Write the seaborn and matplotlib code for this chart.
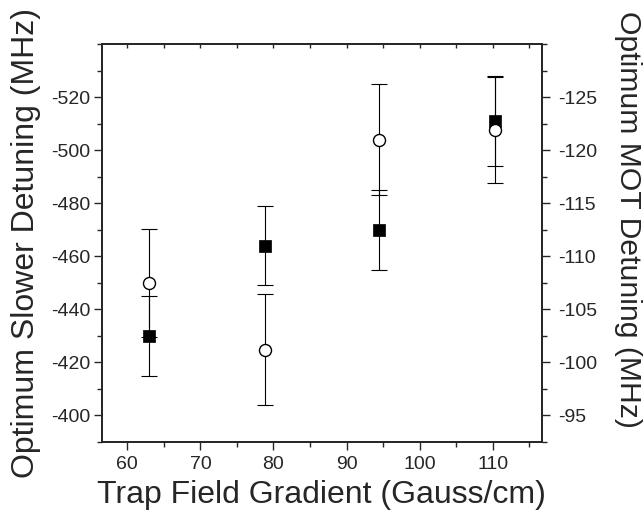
import numpy as np
import matplotlib
matplotlib.use("Agg")
import matplotlib.pyplot as plt
from matplotlib.ticker import MultipleLocator, FixedLocator
import seaborn as sns

sns.set_style("ticks")
plt.rcParams['font.family'] = ['Liberation Sans', 'DejaVu Sans']
plt.rcParams['axes.unicode_minus'] = False

# trap field gradient (Gauss/cm)
gradient = [63.0, 78.8, 94.5, 110.3]
# optimum slower detuning (MHz), squares, left axis
slower = [-430, -464, -470, -511]
slower_err = [15, 15, 15, 17]
# optimum MOT detuning (MHz), circles, right axis
mot = [-107.5, -101.2, -121.0, -121.9]
mot_err = [5.1, 5.2, 5.2, 5.0]

left_ticks = [-400, -420, -440, -460, -480, -500, -520]
right_ticks = [-95, -100, -105, -110, -115, -120, -125]

fig = plt.figure(figsize=(6.44, 5.21), dpi=100)
ax = fig.add_axes([0.158, 0.1516, 0.683, 0.764])
ax2 = ax.twinx()
ax3 = ax.twiny()

# error bars first, then markers on top
ax.errorbar(gradient, slower, yerr=slower_err, fmt='none', ecolor='black',
            elinewidth=0.8, capsize=5.6, capthick=0.8, zorder=2)
ax2.errorbar(gradient, mot, yerr=mot_err, fmt='none', ecolor='black',
             elinewidth=0.8, capsize=5.6, capthick=0.8, zorder=2)
sns.scatterplot(x=gradient, y=slower, ax=ax, marker='s', s=80, color='black',
                edgecolor='black', linewidth=0.5, zorder=3)
sns.scatterplot(x=gradient, y=mot, ax=ax2, marker='o', s=75, color='white',
                edgecolor='black', linewidth=1.0, zorder=3)

ax.set_xlim(56.5, 116.7)
ax3.set_xlim(56.5, 116.7)
ax.set_ylim(-390, -540)
ax2.set_ylim(-92.5, -130)

ax.xaxis.set_major_locator(MultipleLocator(10))
ax.xaxis.set_minor_locator(MultipleLocator(5))
ax3.xaxis.set_major_locator(MultipleLocator(5))
ax.yaxis.set_major_locator(FixedLocator(left_ticks))
ax.yaxis.set_minor_locator(MultipleLocator(10))
ax2.yaxis.set_major_locator(FixedLocator(right_ticks))
ax2.yaxis.set_minor_locator(MultipleLocator(2.5))

for a in (ax, ax2, ax3):
    for sp in a.spines.values():
        sp.set_linewidth(1.1)
        sp.set_visible(True)

ax.tick_params(axis='x', which='both', top=False, direction='out', labelsize=14, width=1.0, pad=4)
ax.tick_params(axis='x', which='major', length=6)
ax.tick_params(axis='x', which='minor', length=3.5)
ax.tick_params(axis='y', which='major', length=6, width=1.0, labelsize=14, pad=2)
ax.tick_params(axis='y', which='minor', length=3.5, width=1.0)
ax2.tick_params(axis='y', which='major', length=6, width=1.0, labelsize=14, pad=6)
ax2.tick_params(axis='y', which='minor', length=3.5, width=1.0)
# small inward ticks on the top spine
ax3.tick_params(axis='x', which='major', direction='in', length=3, width=1.0,
                labeltop=False, top=True)

ax.set_xlabel('Trap Field Gradient (Gauss/cm)', fontsize=23, labelpad=5)
ax.set_ylabel('Optimum Slower Detuning (MHz)', fontsize=23, labelpad=7.5)
ax2.set_ylabel('Optimum MOT Detuning (MHz)', fontsize=21.7, rotation=270)
ax2.yaxis.set_label_coords(1.228, 0.558)

fig.savefig('out.png', dpi=100)
